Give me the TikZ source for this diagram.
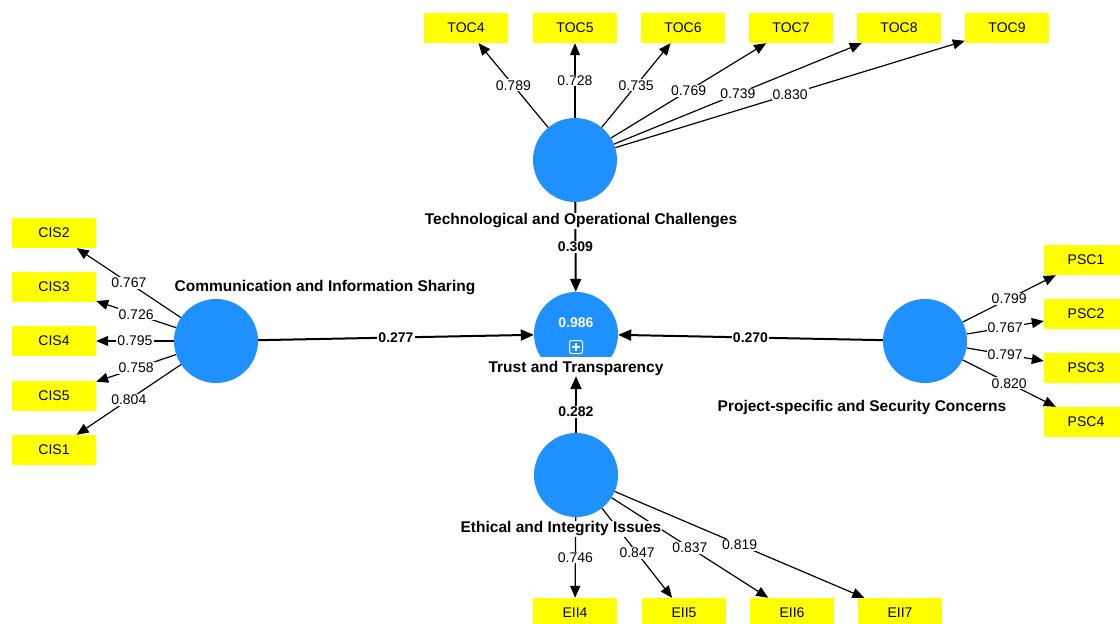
\documentclass[tikz,border=0pt]{standalone}
\usepackage{fontspec}
\setmainfont{Liberation Sans}
\usetikzlibrary{arrows.meta}
\definecolor{lvblue}{HTML}{1E90FF}
\definecolor{indyellow}{HTML}{FFFF00}
\begin{document}
\begin{tikzpicture}[x=1pt,y=-1pt,
  lv/.style={circle,fill=lvblue,minimum size=84pt,inner sep=0pt},
  ind/.style={fill=indyellow,minimum width=84pt,minimum height=30pt,inner sep=0pt,font=\fontsize{14}{14}\selectfont},
  ttl/.style={fill=white,inner xsep=1pt,inner ysep=1pt,font=\fontsize{15.5}{16}\selectfont\bfseries},
  loadc/.style={line width=1.2pt,-{Triangle[length=12pt,width=10pt]}},
  pathc/.style={line width=2pt,-{Triangle[length=13pt,width=11pt]}},
  lbl/.style={fill=white,inner sep=1pt,font=\fontsize{14}{14}\selectfont},
  plbl/.style={fill=white,inner sep=1pt,font=\fontsize{14}{14}\selectfont\bfseries}]
\useasboundingbox (0,0) rectangle (1120,624);
\fill[white] (0,0) rectangle (1120,624);
% latent variables
\node[lv] (toc) at (575,160) {};
\node[lv] (cis) at (216,341) {};
\node[lv] (tt)  at (576,334) {};
\node[lv] (psc) at (925,341) {};
\node[lv] (eii) at (576,475) {};
% indicators
\node[ind] (toc4) at (466,28) {TOC4};
\node[ind] (toc5) at (575,28) {TOC5};
\node[ind] (toc6) at (683,28) {TOC6};
\node[ind] (toc7) at (791,28) {TOC7};
\node[ind] (toc8) at (899,28) {TOC8};
\node[ind] (toc9) at (1007,28) {TOC9};
\node[ind] (cis2) at (54,233) {CIS2};
\node[ind] (cis3) at (54,287) {CIS3};
\node[ind] (cis4) at (54,341) {CIS4};
\node[ind] (cis5) at (54,396) {CIS5};
\node[ind] (cis1) at (54,450) {CIS1};
\node[ind] (psc1) at (1086,260) {PSC1};
\node[ind] (psc2) at (1086,314) {PSC2};
\node[ind] (psc3) at (1086,368) {PSC3};
\node[ind] (psc4) at (1086,422) {PSC4};
\node[ind] (eii4) at (575,613) {EII4};
\node[ind] (eii5) at (684,613) {EII5};
\node[ind] (eii6) at (792,613) {EII6};
\node[ind] (eii7) at (900,613) {EII7};
% loadings
\draw[loadc] (toc) -- node[lbl]{0.789} (toc4);
\draw[loadc] (toc) -- node[lbl]{0.728} (toc5);
\draw[loadc] (toc) -- node[lbl]{0.735} (toc6);
\draw[loadc] (toc) -- node[lbl]{0.769} (toc7);
\draw[loadc] (toc) -- node[lbl]{0.739} (toc8);
\draw[loadc] (toc) -- node[lbl]{0.830} (toc9);
\draw[loadc] (cis) -- node[lbl]{0.767} (cis2);
\draw[loadc] (cis) -- node[lbl]{0.726} (cis3);
\draw[loadc] (cis) -- node[lbl]{0.795} (cis4);
\draw[loadc] (cis) -- node[lbl]{0.758} (cis5);
\draw[loadc] (cis) -- node[lbl]{0.804} (cis1);
\draw[loadc] (psc) -- node[lbl]{0.799} (psc1);
\draw[loadc] (psc) -- node[lbl]{0.767} (psc2);
\draw[loadc] (psc) -- node[lbl]{0.797} (psc3);
\draw[loadc] (psc) -- node[lbl]{0.820} (psc4);
\draw[loadc] (eii) -- node[lbl]{0.746} (eii4);
\draw[loadc] (eii) -- node[lbl]{0.847} (eii5);
\draw[loadc] (eii) -- node[lbl]{0.837} (eii6);
\draw[loadc] (eii) -- node[lbl]{0.819} (eii7);
% paths
\draw[pathc] (toc) -- node[plbl]{0.309} (tt);
\draw[pathc] (cis) -- node[plbl]{0.277} (tt);
\draw[pathc] (psc) -- node[plbl]{0.270} (tt);
\draw[pathc] (eii) -- node[plbl,pos=0.37]{0.282} (tt);
% titles
\node[ttl] (toct) at (581,221) {Technological and Operational Challenges};
\node[ttl] (cist) at (325,288) {Communication and Information Sharing};
\node[ttl] (pset) at (862,407) {Project-specific and Security Concerns};
\node[ttl] (eiit) at (561,529) {Ethical and Integrity Issues};
\node[ttl,text height=15pt,text depth=4pt,inner ysep=0pt,anchor=base] (ttt) at (576,372) {Trust and Transparency};
% R squared and icon
\node[text=white,font=\fontsize{14}{14}\selectfont\bfseries] (r2) at (576,323) {0.986};
\node[draw=white,line width=1pt,rounded corners=2pt,minimum size=13pt,inner sep=0pt] (plus) at (576,347) {};
\draw[white,line width=1.2pt] (plus.center) ++(-4,0) -- ++(8,0);
\draw[white,line width=1.2pt] (plus.center) ++(0,-4) -- ++(0,8);
\end{tikzpicture}
\end{document}
